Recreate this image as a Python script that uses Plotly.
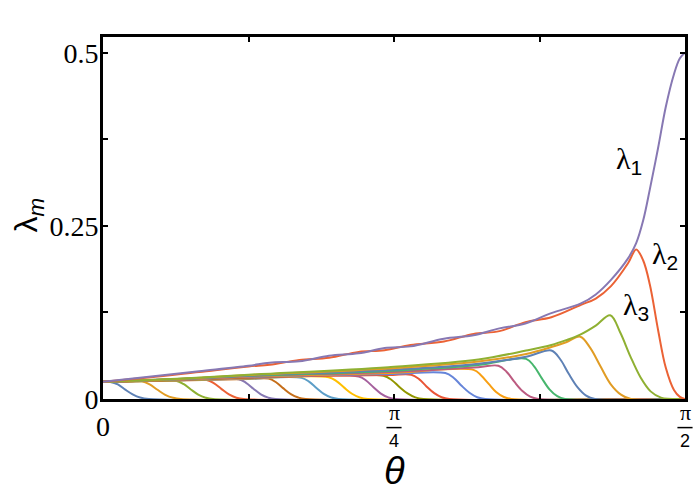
import numpy as np
import plotly.graph_objects as go

# eigenvalues lambda_m(theta); curve 20 = lambda_1
curve_colors = ["#5E81B5", "#E19C24", "#8FB032", "#EB6235", "#8778B3",
                "#C56E1A", "#5D9EC7", "#FFBF00", "#A5609D", "#929600",
                "#E95536", "#6685D9", "#F89F13", "#BC5B80", "#47B66D",
                "#5E81B5", "#E19C24", "#8FB032", "#EB6235", "#8778B3"]

curve_theta = [
    [0, 0.02, 0.04, 0.06, 0.08, 0.10, 0.124, 1.5708],
    [0, 0.05, 0.105, 0.126, 0.147, 0.168, 0.189, 0.21, 1.5708],
    [0, 0.1, 0.197, 0.217, 0.237, 0.257, 0.277, 0.297, 1.5708],
    [0, 0.14, 0.28, 0.30, 0.32, 0.34, 0.36, 0.38, 1.5708],
    [0, 0.18, 0.366, 0.386, 0.406, 0.426, 0.446, 0.466, 1.5708],
    [0, 0.2, 0.393, 0.447, 0.467, 0.487, 0.507, 0.527, 0.547, 1.5708],
    [0, 0.2, 0.393, 0.536, 0.556, 0.576, 0.596, 0.616, 0.636, 1.5708],
    [0, 0.2, 0.393, 0.609, 0.63, 0.651, 0.672, 0.693, 0.715, 1.5708],
    [0, 0.2, 0.393, 0.69, 0.71, 0.73, 0.75, 0.77, 0.79, 1.5708],
    [0, 0.2, 0.393, 0.757, 0.779, 0.8, 0.822, 0.843, 0.865, 1.5708],
    [0, 0.2, 0.393, 0.77, 0.832, 0.853, 0.873, 0.894, 0.914, 0.935, 1.5708],
    [0, 0.2, 0.393, 0.77, 0.924, 0.946, 0.967, 0.989, 1.01, 1.032, 1.5708],
    [0, 0.2, 0.393, 0.77, 1.0, 1.02, 1.041, 1.061, 1.082, 1.102, 1.5708],
    [0, 0.2, 0.393, 0.77, 1.013, 1.067, 1.089, 1.11, 1.132, 1.153, 1.175, 1.5708],
    [0, 0.2, 0.393, 0.77, 1.013, 1.142, 1.163, 1.184, 1.205, 1.226, 1.247, 1.5708],
    [0, 0.2, 0.393, 0.77, 1.013, 1.142, 1.21, 1.234, 1.257, 1.281, 1.304, 1.328, 1.5708],
    [0, 0.2, 0.393, 0.77, 1.013, 1.142, 1.21, 1.25, 1.288, 1.315, 1.343, 1.37, 1.398, 1.425, 1.5708],
    [0, 0.2, 0.393, 0.77, 1.013, 1.142, 1.21, 1.25, 1.288, 1.33, 1.369, 1.396, 1.423, 1.451, 1.478, 1.506, 1.5708],
    [0, 0.124, 0.259, 0.393, 0.45, 0.53, 0.61, 0.69, 0.76, 0.83, 0.92, 1.0, 1.07, 1.14, 1.21, 1.29, 1.33,
     1.371, 1.417, 1.439, 1.458, 1.476, 1.498, 1.519, 1.541, 1.557, 1.5708],
    [0, 0.124, 0.259, 0.393, 0.45, 0.53, 0.61, 0.69, 0.76, 0.83, 0.92, 1.0, 1.07, 1.14, 1.21, 1.29, 1.33,
     1.371, 1.417, 1.439, 1.458, 1.476, 1.498, 1.519, 1.541, 1.557, 1.5708],
]

curve_lam = [
    [0.025, 0.0245, 0.021, 0.0135, 0.0068, 0.0022, 0, 0],
    [0.025, 0.0253, 0.0255, 0.021, 0.0133, 0.0061, 0.0018, 0, 0],
    [0.025, 0.0258, 0.0265, 0.0217, 0.0138, 0.0064, 0.0019, 0, 0],
    [0.025, 0.0262, 0.0275, 0.0226, 0.0143, 0.0066, 0.0019, 0, 0],
    [0.025, 0.0267, 0.0285, 0.0234, 0.0148, 0.0068, 0.002, 0, 0],
    [0.025, 0.0268, 0.029, 0.0295, 0.0242, 0.0153, 0.0071, 0.0021, 0, 0],
    [0.025, 0.027, 0.0295, 0.0305, 0.025, 0.0159, 0.0073, 0.0021, 0, 0],
    [0.025, 0.0272, 0.030, 0.0315, 0.0258, 0.0164, 0.0076, 0.0022, 0, 0],
    [0.025, 0.0274, 0.0305, 0.0325, 0.0267, 0.0169, 0.0078, 0.0023, 0, 0],
    [0.025, 0.0276, 0.031, 0.0335, 0.0275, 0.0174, 0.008, 0.0023, 0, 0],
    [0.025, 0.0278, 0.0315, 0.0345, 0.035, 0.0287, 0.0182, 0.0084, 0.0025, 0, 0],
    [0.025, 0.028, 0.032, 0.036, 0.0375, 0.0308, 0.0195, 0.009, 0.0026, 0, 0],
    [0.025, 0.0282, 0.0325, 0.0375, 0.042, 0.0344, 0.0218, 0.0101, 0.0029, 0, 0],
    [0.025, 0.0284, 0.033, 0.039, 0.046, 0.048, 0.0394, 0.025, 0.0115, 0.0034, 0, 0],
    [0.025, 0.0286, 0.0335, 0.0405, 0.049, 0.058, 0.0476, 0.0302, 0.0139, 0.0041, 0, 0],
    [0.025, 0.0288, 0.034, 0.042, 0.051, 0.061, 0.07, 0.0574, 0.0364, 0.0168, 0.0049, 0, 0],
    [0.025, 0.029, 0.0345, 0.044, 0.054, 0.065, 0.075, 0.082, 0.09, 0.0738, 0.0468, 0.0216, 0.0063, 0, 0],
    [0.025, 0.0292, 0.035, 0.046, 0.057, 0.07, 0.078, 0.085, 0.093, 0.106, 0.121, 0.096, 0.062,
     0.031, 0.011, 0.002, 0],
    [0.025, 0.031, 0.039, 0.047, 0.0495, 0.0565, 0.0595, 0.068, 0.0705, 0.078, 0.083, 0.094, 0.098,
     0.111, 0.118, 0.136, 0.145, 0.163, 0.196, 0.216, 0.20, 0.165, 0.10, 0.045, 0.013, 0.003, 0],
    [0.025, 0.032, 0.040, 0.048, 0.0525, 0.0545, 0.0625, 0.066, 0.0735, 0.076, 0.087, 0.092, 0.102,
     0.109, 0.124, 0.138, 0.151, 0.172, 0.203, 0.225, 0.258, 0.303, 0.362, 0.422, 0.469, 0.492, 0.5],
]

# curve labels
label_text = ["λ<sub><span style='font-family:Liberation Sans'>1</span></sub>",
              "λ<sub><span style='font-family:Liberation Sans'>2</span></sub>",
              "λ<sub><span style='font-family:Liberation Sans'>3</span></sub>"]
label_theta = [1.420, 1.517, 1.439]
label_lam = [0.345, 0.2075, 0.133]

x_tickvals = [0, np.pi / 8, np.pi / 4, 3 * np.pi / 8, np.pi / 2]
x_ticktext = ["0", "", "", "", ""]
y_tickvals = [0, 0.125, 0.25, 0.375, 0.5]
y_ticktext = ["0", "", "0.25", "", "0.5"]
# fraction labels pi/4, pi/2 (paper x position, denominator)
frac_x = [0.5, 1.0]
frac_den = ["4", "2"]

fig = go.Figure()
for th, lam, col in zip(curve_theta, curve_lam, curve_colors):
    fig.add_trace(go.Scatter(x=th, y=lam, mode="lines",
                             line=dict(color=col, width=2, shape="spline"),
                             showlegend=False, hoverinfo="skip"))

for txt, tx, ty in zip(label_text, label_theta, label_lam):
    fig.add_annotation(x=tx, y=ty, text=txt, showarrow=False, xanchor="center", yanchor="middle",
                       font=dict(family="Liberation Serif", size=30, color="black"))

axis_style = dict(showline=True, linewidth=3, linecolor="black", mirror="allticks",
                  ticks="inside", ticklen=5, tickwidth=2, tickcolor="black",
                  showgrid=False, zeroline=False)

fig.update_xaxes(range=[0, np.pi / 2], tickvals=x_tickvals, ticktext=x_ticktext,
                 tickfont=dict(family="Liberation Serif", size=28, color="black"), **axis_style)
fig.update_yaxes(range=[0, 0.5227], tickvals=y_tickvals, ticktext=y_ticktext,
                 ticklabelstandoff=-4,
                 tickfont=dict(family="Liberation Serif", size=28, color="black"), **axis_style)

for xc, den in zip(frac_x, frac_den):
    fig.add_annotation(xref="paper", yref="paper", x=xc, y=-0.038, text="π", showarrow=False,
                       xanchor="center", yanchor="middle",
                       font=dict(family="Liberation Serif", size=22, color="black"))
    fig.add_annotation(xref="paper", yref="paper", x=xc, y=-0.116, text=den, showarrow=False,
                       xanchor="center", yanchor="middle",
                       font=dict(family="Liberation Sans", size=18, color="black"))
    fig.add_shape(type="line", xref="paper", yref="paper", x0=xc - 0.013, x1=xc + 0.013,
                  y0=-0.079, y1=-0.079, line=dict(color="black", width=1.5))

fig.add_annotation(xref="paper", yref="paper", x=0.5, y=-0.199, text="<i>θ</i>", showarrow=False,
                   xanchor="center", yanchor="middle",
                   font=dict(family="Liberation Sans", size=38, color="black"))
fig.add_annotation(xref="paper", yref="paper", x=-0.128, y=0.508, text="λ<sub><i>m</i></sub>",
                   showarrow=False, textangle=-90, xanchor="center", yanchor="middle",
                   font=dict(family="Liberation Sans", size=32, color="black"))

fig.update_layout(width=700, height=497, margin=dict(l=103, r=13, t=37, b=98),
                  plot_bgcolor="white", paper_bgcolor="white")

fig.write_html("out.html", config={"displayModeBar": False},
               post_script="document.body.style.margin='0px';")
